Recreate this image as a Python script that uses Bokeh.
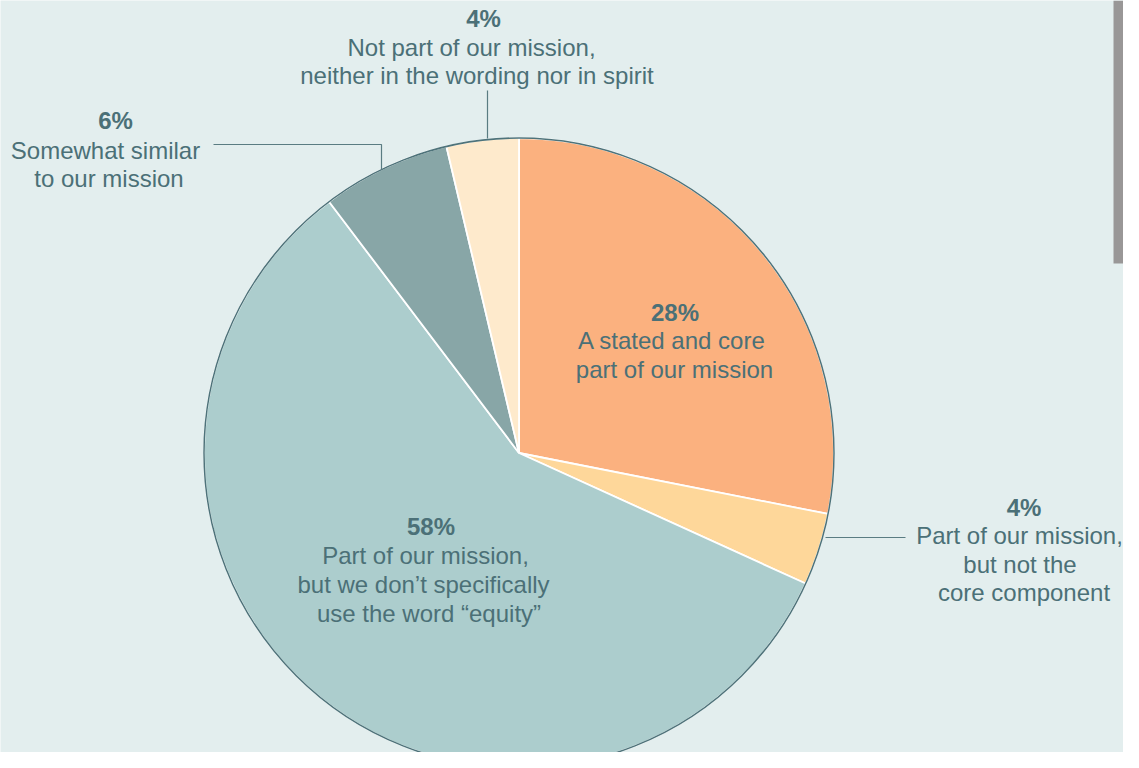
import math
from bokeh.plotting import figure
from bokeh.models import Range1d, ColumnDataSource
from bokeh.core.properties import value
from bokeh.embed import file_html
from bokeh.resources import INLINE

# ---- data ----
categories = [
    "A stated and core part of our mission",
    "Part of our mission, but not the core component",
    "Part of our mission, but we don\u2019t specifically use the word \u201cequity\u201d",
    "Somewhat similar to our mission",
    "Not part of our mission, neither in the wording nor in spirit",
]
shares = [28.1, 3.7, 57.9, 6.6, 3.7]
pct_labels = ["28%", "4%", "58%", "6%", "4%"]
label_lines = [
    ["A stated and core", "part of our mission"],
    ["Part of our mission,", "but not the", "core component"],
    ["Part of our mission,", "but we don\u2019t specifically", "use the word \u201cequity\u201d"],
    ["Somewhat similar", "to our mission"],
    ["Not part of our mission,", "neither in the wording nor in spirit"],
]
colors = ["#fbb17f", "#fed79a", "#accdcd", "#88a6a7", "#feeacc"]

# ---- layout (pixel coordinates; y is flipped to -y) ----
W, H = 1123, 752
BG = "#e3eeee"
TXT = "#4b7077"
FONT = "Liberation Sans"
FS = "24px"
cx, cy, R = 518.5, 452.5, 315

p = figure(width=W, height=H, output_backend="svg", toolbar_location=None,
           x_range=Range1d(0, W), y_range=Range1d(-H, 0),
           min_border=0, outline_line_color=None,
           background_fill_color=BG, border_fill_color=BG)
p.axis.visible = False
p.grid.visible = False

# wedges, starting at 12 o'clock going clockwise
total = sum(shares)
starts, ends = [], []
cum = 0.0
for s in shares:
    a0 = math.pi / 2 - 2 * math.pi * cum / total
    cum += s
    a1 = math.pi / 2 - 2 * math.pi * cum / total
    starts.append(a1)
    ends.append(a0)

src = ColumnDataSource(dict(cat=categories, share=shares, color=colors,
                            start=starts, end=ends,
                            x=[cx] * len(shares), y=[-cy] * len(shares)))
p.wedge(x="x", y="y", radius=R, start_angle="start", end_angle="end",
        fill_color="color", line_color="white", line_width=1.8, source=src)
p.arc(x=[cx], y=[-cy], radius=R, start_angle=0, end_angle=2 * math.pi,
      line_color="#4e737a", line_width=1.5)

# grey side bar
p.quad(left=[1113], right=[1139], top=[0], bottom=[-263],
       fill_color="#999797", line_color=None)

# leader lines
LC = "#5a7c82"
p.line(x=[213, 381, 381], y=[-144, -144, -169], line_color=LC, line_width=1.2)
p.line(x=[487, 487], y=[-90, -138], line_color=LC, line_width=1.2)
p.line(x=[825, 905], y=[-537, -537], line_color=LC, line_width=1.2)

# label placement: (pct center x, pct baseline y, [line center x], [line baseline y])
RS = -10  # right-hand label nudged left so it stays inside the canvas
DY = -8   # compensation for renderer baseline offset
placements = [
    (674.5, 320, [671.5, 674], [348, 377]),
    (1033.5 + RS, 515, [1029 + RS, 1029.5 + RS, 1033.5 + RS], [543, 572, 600]),
    (430.5, 534, [425, 423, 428.5], [563, 592, 621]),
    (115, 128, [105, 108.5], [158, 186]),
    (483, 26, [471, 476.5], [55, 83]),
]
for i, (px, py, lxs, lys) in enumerate(placements):
    p.text(x=[px], y=[-(py + DY)], text=[pct_labels[i]], text_font=value(FONT),
           text_font_size=FS, text_font_style="bold", text_color=TXT,
           text_align="center", text_baseline="alphabetic")
    p.text(x=lxs, y=[-(v + DY) for v in lys], text=label_lines[i], text_font=value(FONT),
           text_font_size=FS, text_color=TXT,
           text_align="center", text_baseline="alphabetic")

open("out.html", "w").write(file_html(p, INLINE))
